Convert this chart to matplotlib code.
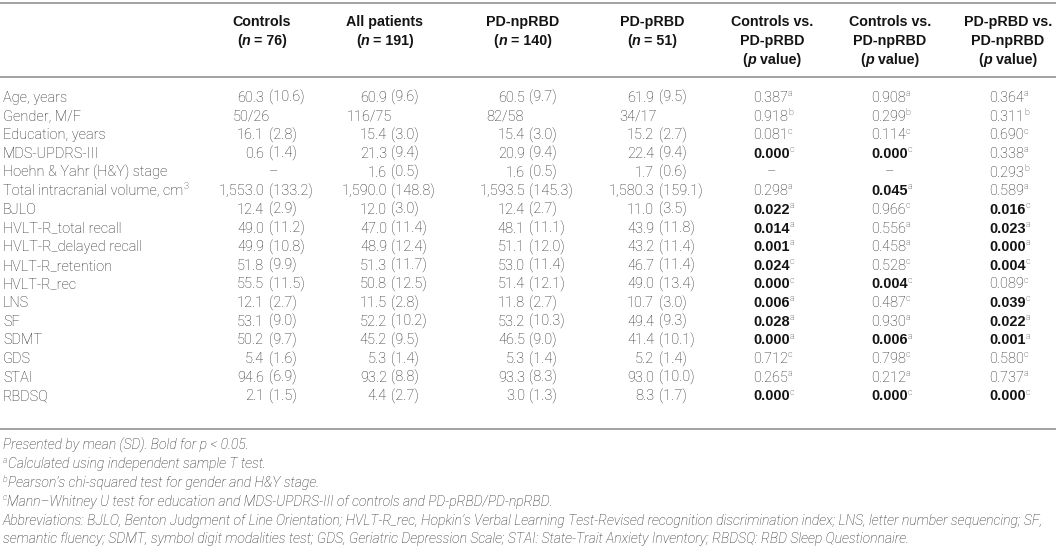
import matplotlib
matplotlib.use("Agg")
import matplotlib.pyplot as plt

plt.rcParams['font.family'] = ['Roboto', 'DejaVu Sans']

# Table content
row_labels = ["Age, years", "Gender, M/F", "Education, years", "MDS-UPDRS-III",
              "Hoehn & Yahr (H&Y) stage", "Total intracranial volume, cm", "BJLO",
              "HVLT-R_total recall", "HVLT-R_delayed recall", "HVLT-R_retention",
              "HVLT-R_rec", "LNS", "SF", "SDMT", "GDS", "STAI", "RBDSQ"]

controls = ["60.3 (10.6)", "50/26", "16.1 (2.8)", "0.6 (1.4)", "–", "1,553.0 (133.2)",
            "12.4 (2.9)", "49.0 (11.2)", "49.9 (10.8)", "51.8 (9.9)", "55.5 (11.5)",
            "12.1 (2.7)", "53.1 (9.0)", "50.2 (9.7)", "5.4 (1.6)", "94.6 (6.9)", "2.1 (1.5)"]
all_patients = ["60.9 (9.6)", "116/75", "15.4 (3.0)", "21.3 (9.4)", "1.6 (0.5)", "1,590.0 (148.8)",
                "12.0 (3.0)", "47.0 (11.4)", "48.9 (12.4)", "51.3 (11.7)", "50.8 (12.5)",
                "11.5 (2.8)", "52.2 (10.2)", "45.2 (9.5)", "5.3 (1.4)", "93.2 (8.8)", "4.4 (2.7)"]
pd_nprbd = ["60.5 (9.7)", "82/58", "15.4 (3.0)", "20.9 (9.4)", "1.6 (0.5)", "1,593.5 (145.3)",
            "12.4 (2.7)", "48.1 (11.1)", "51.1 (12.0)", "53.0 (11.4)", "51.4 (12.1)",
            "11.8 (2.7)", "53.2 (10.3)", "46.5 (9.0)", "5.3 (1.4)", "93.3 (8.3)", "3.0 (1.3)"]
pd_prbd = ["61.9 (9.5)", "34/17", "15.2 (2.7)", "22.4 (9.4)", "1.7 (0.6)", "1,580.3 (159.1)",
           "11.0 (3.5)", "43.9 (11.8)", "43.2 (11.4)", "46.7 (11.4)", "49.0 (13.4)",
           "10.7 (3.0)", "49.4 (9.3)", "41.4 (10.1)", "5.2 (1.4)", "93.0 (10.0)", "8.3 (1.7)"]

# p values with the footnote letter of the test used
ctrl_vs_prbd = ["0.387a", "0.918b", "0.081c", "0.000c", "–", "0.298a", "0.022a", "0.014a",
                "0.001a", "0.024c", "0.000c", "0.006a", "0.028a", "0.000a", "0.712c",
                "0.265a", "0.000c"]
ctrl_vs_nprbd = ["0.908a", "0.299b", "0.114c", "0.000c", "–", "0.045a", "0.966c", "0.556a",
                 "0.458a", "0.528c", "0.004c", "0.487c", "0.930a", "0.006a", "0.798c",
                 "0.212a", "0.000c"]
prbd_vs_nprbd = ["0.364a", "0.311b", "0.690c", "0.338a", "0.293b", "0.589a", "0.016c", "0.023a",
                 "0.000a", "0.004c", "0.089c", "0.039c", "0.022a", "0.001a", "0.580c",
                 "0.737a", "0.000c"]

group_names = ["Controls", "All patients", "PD-npRBD", "PD-pRBD"]
group_n = [76, 191, 140, 51]
p_headers = [["Controls vs.", "PD-pRBD"], ["Controls vs.", "PD-npRBD"], ["PD-pRBD vs.", "PD-npRBD"]]

footnotes = [
    [("Presented by mean (SD). Bold for p < 0.05.", {})],
    [("a", {"sup": True}), ("Calculated using independent sample T test.", {})],
    [("b", {"sup": True}), ("Pearson’s chi-squared test for gender and H&Y stage.", {})],
    [("c", {"sup": True}), ("Mann–Whitney U test for education and MDS-UPDRS-III of controls and PD-pRBD/PD-npRBD.", {})],
    [("Abbreviations: BJLO, Benton Judgment of Line Orientation; HVLT-R_rec, Hopkin’s Verbal Learning "
      "Test-Revised recognition discrimination index; LNS, letter number sequencing; SF,", {})],
    [("semantic fluency; SDMT, symbol digit modalities test; GDS, Geriatric Depression Scale; "
      "STAI: State-Trait Anxiety Inventory; RBDSQ: RBD Sleep Questionnaire.", {})],
]

# Layout (pixels)
W, H = 1056, 547
TXT = "#262626"
BOLD = "#141414"
RULE = "#9a9a9a"
BOLD_FAMILY = ["Liberation Sans", "DejaVu Sans"]
group_x = [262, 385, 523, 652]
p_x = [772, 890, 1008]
row_y0, row_step = 97, 18.65
head_y = [21, 40, 59]

fig = plt.figure(figsize=(W / 100, H / 100), dpi=100)
ax = fig.add_axes([0, 0, 1, 1])
ax.set_xlim(0, W)
ax.set_ylim(H, 0)
ax.axis("off")
renderer = fig.canvas.get_renderer()


def style_kw(size, weight, style, color):
    kw = dict(fontsize=size, fontstyle=style, color=color)
    if weight == "bold":
        kw.update(fontweight="bold", family=BOLD_FAMILY)
    else:
        kw.update(fontweight="light")
    return kw


def text_width(s, **kw):
    t = ax.text(0, 0, s, **kw)
    bb = t.get_window_extent(renderer)
    t.remove()
    return bb.width


def fit_size(s, target, weight="light", style="normal"):
    return 10 * target / text_width(s, **style_kw(10, weight, style, TXT))


HEAD_FS = fit_size("PD-pRBD vs.", 88, weight="bold")
FS = fit_size("1,553.0 (133.2)", 93)
FOOT_FS = fit_size(footnotes[4][0][0], 1043, style="italic")


def draw_runs(x, y, runs, ha="left", size=None, color=TXT, weight="light", style="normal"):
    # runs: list of (text, opts) drawn one after another on a shared baseline
    size = size or FS
    pieces = []
    for s, o in runs:
        sup = o.get("sup", False)
        kw = style_kw(size * 0.62 if sup else size, o.get("weight", weight),
                      o.get("style", style), o.get("color", color))
        pieces.append((s, kw, text_width(s, **kw), sup))
    total = sum(p[2] for p in pieces)
    cx = x - total / 2 if ha == "center" else (x - total if ha == "right" else x)
    for s, kw, w, sup in pieces:
        yy = y - size * 0.55 if sup else y
        ax.text(cx, yy, s, va="baseline", ha="left", **kw)
        cx += w
    return total


# rules
for yy in [2.5, 77, 429]:
    ax.plot([0, W], [yy, yy], color=RULE, lw=1.3, solid_capstyle="butt")

# headers
for name, n, x in zip(group_names, group_n, group_x):
    draw_runs(x, head_y[0] + 5, [(name, {})], ha="center", size=HEAD_FS, weight="bold", color=BOLD)
    draw_runs(x, head_y[1] + 5, [("(", {}), ("n", {"style": "italic"}), (" = %d)" % n, {})],
              ha="center", size=HEAD_FS, weight="bold", color=BOLD)
for lines, x in zip(p_headers, p_x):
    draw_runs(x, head_y[0] + 5, [(lines[0], {})], ha="center", size=HEAD_FS, weight="bold", color=BOLD)
    draw_runs(x, head_y[1] + 5, [(lines[1], {})], ha="center", size=HEAD_FS, weight="bold", color=BOLD)
    draw_runs(x, head_y[2] + 5, [("(", {}), ("p", {"style": "italic"}), (" value)", {})],
              ha="center", size=HEAD_FS, weight="bold", color=BOLD)

# row labels
for i, lab in enumerate(row_labels):
    y = row_y0 + i * row_step + 5
    runs = [(lab, {})]
    if lab.endswith("cm"):
        runs.append(("3", {"sup": True}))
    draw_runs(3, y, runs)

# group columns: mean right aligned, SD left aligned
for col, x, name in zip([controls, all_patients, pd_nprbd, pd_prbd], group_x, group_names):
    head_w = text_width(name, **style_kw(HEAD_FS, "bold", "normal", BOLD))
    for i, cell in enumerate(col):
        y = row_y0 + i * row_step + 5
        if cell == "–":
            draw_runs(x + 12, y, [(cell, {})], ha="center")
        elif "/" in cell:
            draw_runs(x - head_w / 2, y, [(cell, {})])
        else:
            mean, sd = cell.split(" ", 1)
            draw_runs(x + 2, y, [(mean, {})], ha="right")
            draw_runs(x + 6.5, y, [(sd, {})])

# p value columns, bold when p < 0.05
for col, x in zip([ctrl_vs_prbd, ctrl_vs_nprbd, prbd_vs_nprbd], p_x):
    for i, cell in enumerate(col):
        y = row_y0 + i * row_step + 5
        if cell == "–":
            draw_runs(x, y, [(cell, {})], ha="center")
            continue
        val, letter = cell[:-1], cell[-1]
        bold = float(val) < 0.05
        draw_runs(x - 19, y, [(val, {"weight": "bold" if bold else "light",
                                      "color": BOLD if bold else TXT}),
                              (letter, {"sup": True})])

# footnotes
for k, runs in enumerate(footnotes):
    y = 445 + k * 18.8 + 4.5
    draw_runs(3, y, runs, size=FOOT_FS, style="italic")

fig.savefig("out.png", dpi=100)
